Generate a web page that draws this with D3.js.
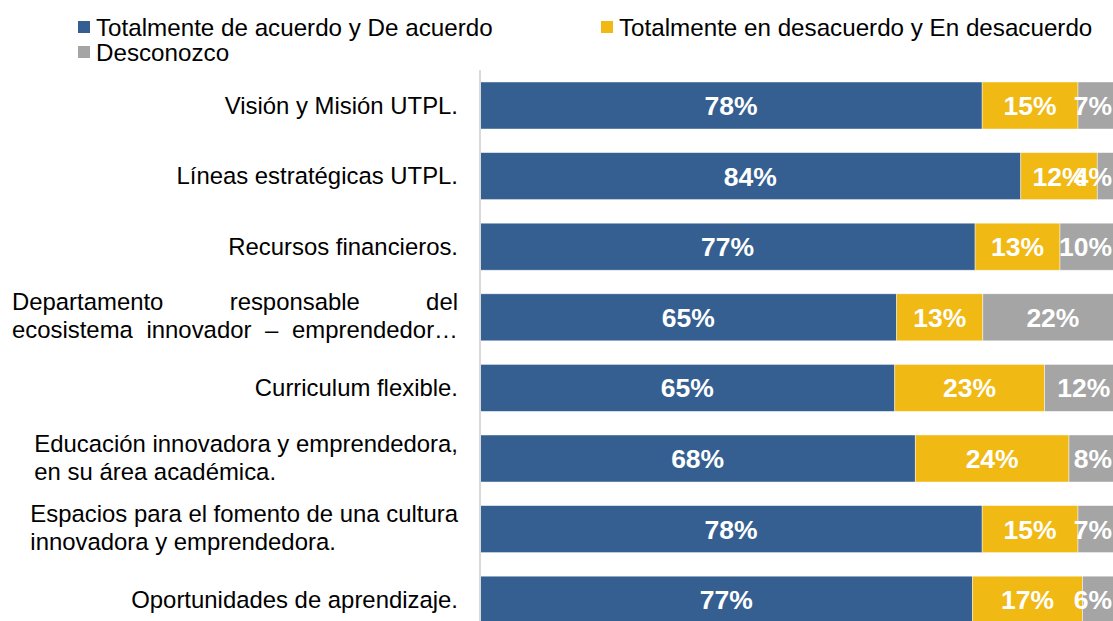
<!DOCTYPE html>
<html><head><meta charset="utf-8">
<script src="https://cdn.jsdelivr.net/npm/d3@7"></script>
<style>
html,body{margin:0;padding:0;background:#fff;overflow:hidden}
text{font-family:Arial,"Liberation Sans",sans-serif}
</style></head>
<body>
<svg id="c" width="1113" height="621"></svg>
<script>
const categories = [
  ["Visión y Misión UTPL."],
  ["Líneas estratégicas UTPL."],
  ["Recursos financieros."],
  ["Departamento responsable del", "ecosistema innovador – emprendedor…"],
  ["Curriculum flexible."],
  ["Educación innovadora y emprendedora,", "en su área académica."],
  ["Espacios para el fomento de una cultura", "innovadora y emprendedora."],
  ["Oportunidades de aprendizaje."]
];
const justified = [false, false, false, true, false, false, false, false];
const seriesNames = ["Totalmente de acuerdo y De acuerdo", "Totalmente en desacuerdo y En desacuerdo", "Desconozco"];
const acuerdo    = [78.1, 84.1, 77.0, 64.8, 64.5, 67.7, 78.1, 76.6];
const desacuerdo = [14.9, 11.9, 13.2, 13.4, 23.3, 23.9, 14.9, 17.1];
const desconozco = [7.0, 4.0, 9.8, 21.8, 12.2, 8.4, 7.0, 6.3];
const colors = ["#365f91", "#f0b913", "#a5a5a5"];

const svg = d3.select("#c");
const keys = categories.map((c, i) => i);
const y = d3.scaleBand().domain(keys).range([70.2, 70.2 + 8 * 70.6]).paddingInner(0.334).paddingOuter(0.167);
const x = d3.scaleLinear().domain([0, 100]).range([480, 1123]);

const rows = keys.map(i => ({i, v: [acuerdo[i], desacuerdo[i], desconozco[i]]}));
const series = d3.stack().keys([0, 1, 2]).value((d, k) => d.v[k])(rows);

const g = svg.append("g");
series.forEach((s, k) => {
  g.selectAll(null).data(s).enter().append("rect")
    .attr("x", d => x(d[0]))
    .attr("y", d => y(d.data.i))
    .attr("width", d => x(d[1]) - x(d[0]))
    .attr("height", y.bandwidth())
    .attr("fill", colors[k])
    .attr("stroke", "#ffffff").attr("stroke-opacity", 0.6).attr("stroke-width", 0.75);
});

// axis line
svg.append("line").attr("x1", 480).attr("x2", 480).attr("y1", 70).attr("y2", 621)
  .attr("stroke", "#d9d9d9").attr("stroke-width", 2);

// value labels
series.forEach((s, k) => {
  s.forEach(d => {
    const t = g.append("text")
      .attr("y", y(d.data.i) + y.bandwidth() / 2 + 9.5)
      .attr("text-anchor", "middle")
      .attr("fill", "#ffffff")
      .attr("font-weight", "bold")
      .attr("font-size", "26.5px")
      .text(Math.round(d[1] - d[0]) + "%");
    const w = t.node().getComputedTextLength();
    const cx = Math.min((x(d[0]) + x(d[1])) / 2, 1112 - w / 2);
    t.attr("x", cx);
  });
});

// category labels
const labelRight = 458;
const fs = "23.9px";
const legendFs = "24.2px";
categories.forEach((lines, i) => {
  const cy = y(i) + y.bandwidth() / 2;
  if (lines.length === 1) {
    svg.append("text").attr("x", labelRight).attr("y", cy + 8)
      .attr("text-anchor", "end").attr("font-size", fs).attr("fill", "#000")
      .text(lines[0]);
  } else {
    const baselines = [cy - 7, cy + 21];
    if (justified[i]) {
      const left = 12;
      lines.forEach((ln, li) => {
        const words = ln.split(" ");
        const nodes = words.map(wd => svg.append("text").attr("y", baselines[li])
          .attr("font-size", fs).attr("fill", "#000").text(wd));
        const widths = nodes.map(n => n.node().getComputedTextLength());
        const total = d3.sum(widths);
        const gap = (labelRight - left - total) / (words.length - 1);
        let cur = left;
        nodes.forEach((n, wi) => { n.attr("x", cur); cur += widths[wi] + gap; });
      });
    } else {
      const nodes = lines.map((ln, li) => svg.append("text").attr("y", baselines[li])
        .attr("font-size", fs).attr("fill", "#000").text(ln));
      const maxW = d3.max(nodes, n => n.node().getComputedTextLength());
      nodes.forEach(n => n.attr("x", labelRight - maxW));
    }
  }
});

// legend
const legendPos = [[78, 36], [601, 36], [78, 61]];
seriesNames.forEach((name, k) => {
  const [lx, ly] = legendPos[k];
  svg.append("rect").attr("x", lx).attr("y", ly - 15).attr("width", 12).attr("height", 12).attr("fill", colors[k]);
  svg.append("text").attr("x", lx + 18).attr("y", ly).attr("font-size", legendFs).attr("fill", "#000").text(name);
});
</script>
</body></html>
